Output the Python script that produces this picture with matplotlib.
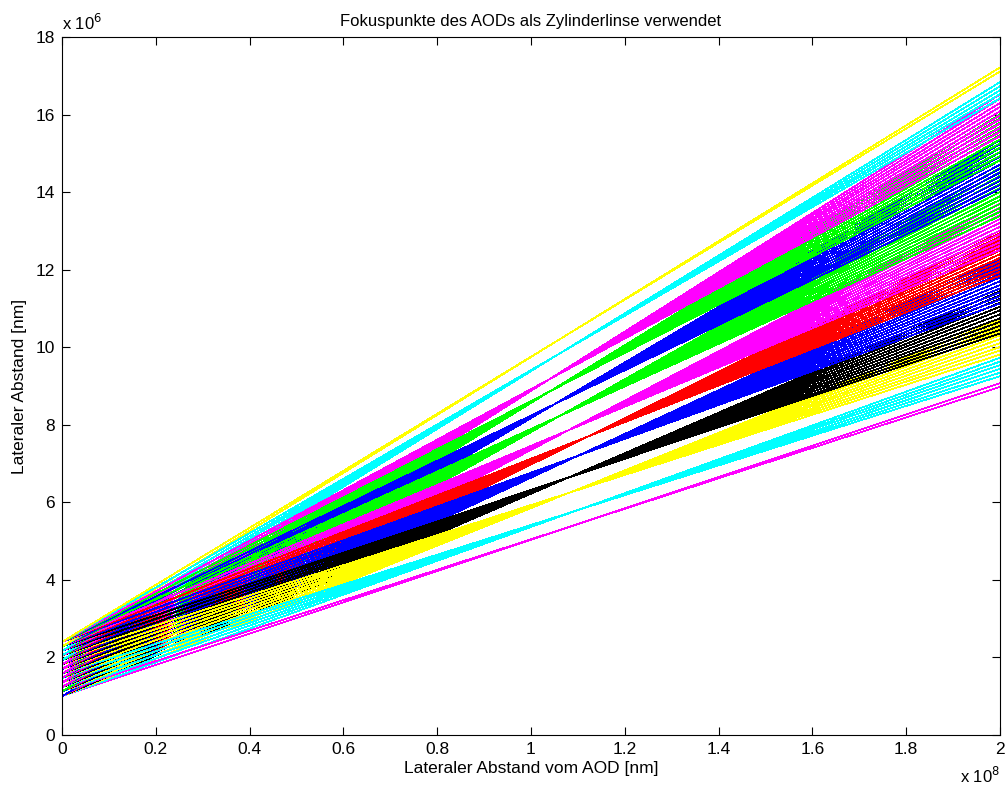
import numpy as np
import matplotlib
matplotlib.use("Agg")
import matplotlib.pyplot as plt
from matplotlib.ticker import FuncFormatter, MultipleLocator

plt.rcParams['font.family'] = ['Liberation Sans', 'DejaVu Sans']

# positions across the AOD aperture [nm] (start of every ray at x = 0)
aperture_y0 = [1.00e6, 1.12e6, 1.23e6, 1.35e6, 1.47e6, 1.58e6, 1.70e6,
               1.82e6, 1.93e6, 2.05e6, 2.17e6, 2.28e6, 2.40e6]

# one ray bundle per focus point, listed from the lowest to the highest
bundle_colors = ['m', 'c', 'y', 'k', 'b', 'r', 'm', 'g', 'b', 'g', 'm', 'c', 'y']
bundle_first = [0, 0, 0, 0, 0, 0, 0, 0, 0, 1, 2, 8, 11]     # first aperture index used
bundle_last = [1, 5, 9, 11, 12, 12, 12, 12, 12, 12, 12, 12, 12]
focus_x = [1.10e8, 1.10e8, 1.08e8, 1.08e8, 1.10e8, 1.12e8, 1.08e8,
           1.06e8, 1.05e8, 1.04e8, 1.04e8, 1.06e8, 1.07e8]
focus_y = [5.44e6, 5.80e6, 6.24e6, 6.64e6, 7.20e6, 7.69e6, 7.86e6,
           8.22e6, 8.53e6, 8.86e6, 9.18e6, 9.83e6, 10.27e6]

x_end = 2e8

colors = {'y': (1, 1, 0), 'm': (1, 0, 1), 'c': (0, 1, 1), 'r': (1, 0, 0),
          'g': (0, 1, 0), 'b': (0, 0, 1), 'k': (0, 0, 0)}

fig = plt.figure(figsize=(10.05, 7.87), dpi=100)
ax = fig.add_axes([0.0617, 0.0661, 0.9333, 0.8869])

# rays drawn aperture position by aperture position, so the colours mix
for i, y0 in enumerate(aperture_y0):
    for k in range(len(bundle_colors)):
        if not bundle_first[k] <= i <= bundle_last[k]:
            continue
        # ray from the aperture through the focus point
        y1 = y0 + (focus_y[k] - y0) * x_end / focus_x[k]
        ax.plot([0, x_end], [y0, y1], color=colors[bundle_colors[k]],
                lw=0.5, antialiased=False)

ax.set_xlim(0, 2e8)
ax.set_ylim(0, 18e6)
ax.xaxis.set_major_locator(MultipleLocator(0.2e8))
ax.yaxis.set_major_locator(MultipleLocator(2e6))
ax.xaxis.set_major_formatter(FuncFormatter(lambda v, p: '%g' % round(v / 1e8, 2)))
ax.yaxis.set_major_formatter(FuncFormatter(lambda v, p: '%g' % round(v / 1e6, 2)))
ax.tick_params(direction='in', top=True, right=True, length=6, width=0.8,
               labelsize=12.5, pad=5)
for s in ax.spines.values():
    s.set_linewidth(0.8)

ax.text(0.0, 1.006, r'x 10$^6$', transform=ax.transAxes, fontsize=12,
        ha='left', va='bottom')
ax.text(1.0, -0.069, r'x 10$^8$', transform=ax.transAxes, fontsize=12,
        ha='right', va='baseline')

ax.set_title('Fokuspunkte des AODs als Zylinderlinse verwendet', fontsize=12, pad=8)
ax.set_xlabel('Lateraler Abstand vom AOD [nm]', fontsize=12.5, labelpad=3)
ax.set_ylabel('Lateraler Abstand [nm]', fontsize=12.5, labelpad=6)

fig.savefig('out.png', dpi=100)
